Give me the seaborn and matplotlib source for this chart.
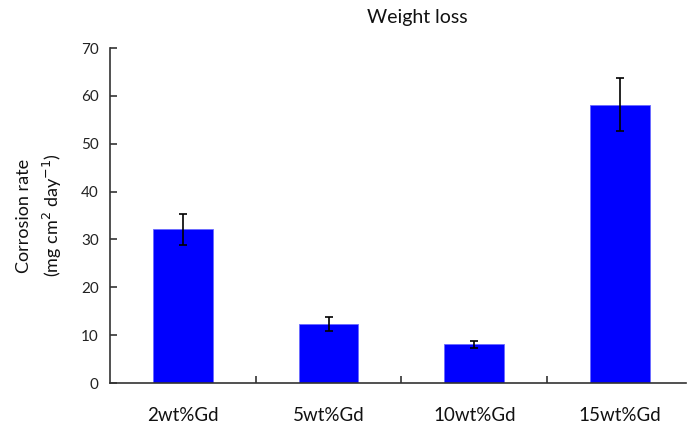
import matplotlib
matplotlib.use("Agg")
import matplotlib.pyplot as plt
import seaborn as sns
import numpy as np
import pandas as pd
from matplotlib.ticker import FixedLocator

categories = ["2wt%Gd", "5wt%Gd", "10wt%Gd", "15wt%Gd"]
rates = [32.1, 12.3, 8.1, 58.2]
errors = [3.3, 1.4, 0.7, 5.6]
yticks = [0, 10, 20, 30, 40, 50, 60, 70]

sns.set_theme(style="white")
plt.rcParams['font.family'] = ['Lato', 'DejaVu Sans']

df = pd.DataFrame({"cat": categories, "rate": rates})

fig = plt.figure(figsize=(6.87, 4.25), dpi=100)
ax = fig.add_axes([0.160, 0.0988, 0.838, 0.788])

sns.barplot(data=df, x="cat", y="rate", color="#0000FF", saturation=1,
            width=0.41, edgecolor="#6a6aff", linewidth=0.6, ax=ax)
ax.errorbar(np.arange(len(categories)), rates, yerr=errors, fmt="none",
            ecolor="black", elinewidth=1.2, capsize=3, capthick=1.2)

ax.set_xlim(-0.5, 3.45)
ax.set_ylim(0, 70)
ax.set_yticks(yticks)
ax.set_yticklabels([str(v) for v in yticks], fontsize=11, color="#222222")
ax.set_xticks(range(len(categories)))
ax.set_xticklabels(categories, fontsize=13.5, color="#111111")
ax.xaxis.set_minor_locator(FixedLocator([0.5, 1.5, 2.5]))
ax.tick_params(axis="x", which="major", length=0, pad=17)
ax.tick_params(axis="x", which="minor", direction="in", length=5, width=1.2, color="#333333", bottom=True)
ax.tick_params(axis="y", which="major", direction="in", length=5, width=1.2, color="#333333", left=True, pad=8)

for s in ["top", "right"]:
    ax.spines[s].set_visible(False)
for s in ["left", "bottom"]:
    ax.spines[s].set_color("#333333")
    ax.spines[s].set_linewidth(1.2)

ax.set_xlabel("")
ax.set_ylabel("Corrosion rate\n(mg cm$^{2}$ day$^{-1}$)", fontsize=13, color="#111111", labelpad=12,
              linespacing=1.5)
fig.text(417 / 687, 1 - 18 / 425, "Weight loss", ha="center", va="center", fontsize=14, color="#111111")

fig.savefig("out.png", dpi=100)
